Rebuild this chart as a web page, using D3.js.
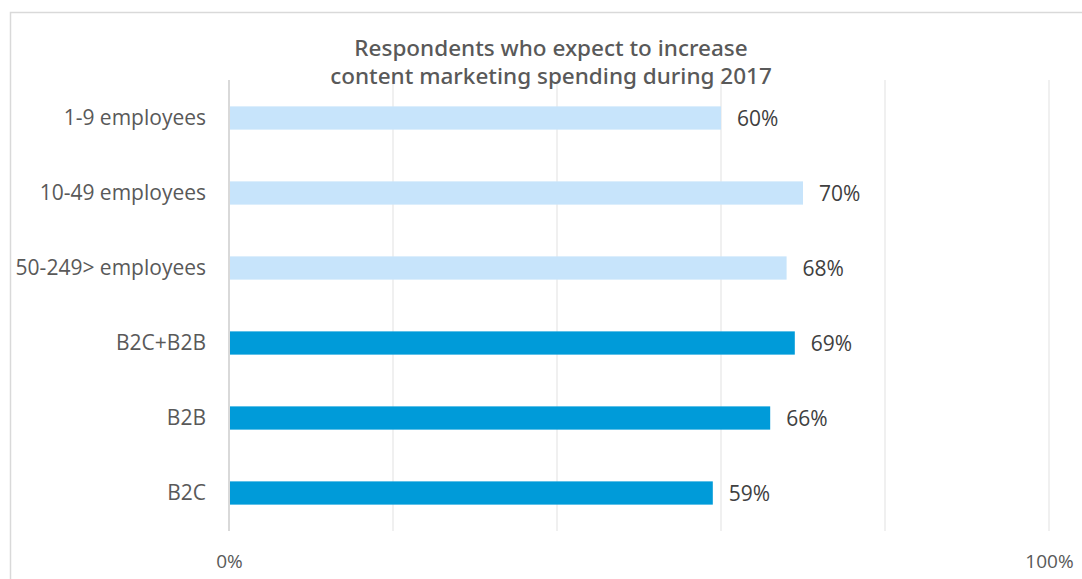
<!DOCTYPE html>
<html><head><meta charset="utf-8">
<script src="https://cdn.jsdelivr.net/npm/d3@7"></script>
<style>html,body{margin:0;padding:0;background:#fff;}svg{display:block;}</style>
</head><body>
<svg id="c" width="1082" height="579"></svg>
<script>
const categories = ["1-9 employees","10-49 employees","50-249> employees","B2C+B2B","B2B","B2C"];
const values = [60,70,68,69,66,59];
const groups = ["size","size","size","type","type","type"];
const tickValues = [0,20,40,60,80,100];
const tickLabels = ["0%","","","","","100%"];
const titleLines = ["Respondents who expect to increase","content marketing spending during 2017"];

const svg = d3.select("#c");
svg.append("rect").attr("x",10.5).attr("y",12.5).attr("width",1100).attr("height",600)
  .attr("fill","#fff").attr("stroke","#d9d9d9").attr("stroke-width",1.5);

const x = d3.scaleLinear().domain([0,100]).range([229,1049]);
const y = d3.scaleBand().domain(categories).range([80.5,530.5]).paddingInner(0.69).paddingOuter(0.345);
const color = {size:"#c7e4fb", type:"#009bd9"};

// gridlines
svg.append("g").selectAll("line").data(tickValues).join("line")
  .attr("x1",d=>x(d)).attr("x2",d=>x(d)).attr("y1",80).attr("y2",531)
  .attr("stroke",d=>d===0?"#d9d9d9":"#ebebeb").attr("stroke-width",d=>d===0?2:1.5);

// x axis labels
const xa = d3.axisBottom(x).tickValues(tickValues).tickFormat((d,i)=>tickLabels[i]).tickSize(0).tickPadding(0);
const gx = svg.append("g").attr("transform","translate(0,554)").call(xa);
gx.select(".domain").remove();
gx.selectAll("text").attr("font-family","'Liberation Sans Narrow','Open Sans',sans-serif")
  .attr("font-size",19).attr("fill","#595959").attr("dy","0.71em");

// y axis labels
const ya = d3.axisLeft(y).tickSize(0).tickPadding(23);
const gy = svg.append("g").attr("transform","translate(229,0)").call(ya);
gy.select(".domain").remove();
gy.selectAll("text").attr("font-family","'Open Sans',sans-serif").attr("font-size",21).attr("fill","#595959");

// bars
svg.append("g").selectAll("rect").data(categories).join("rect")
  .attr("x",x(0)+1).attr("y",d=>y(d)).attr("height",y.bandwidth())
  .attr("width",(d,i)=>x(values[i])-x(0)-1).attr("fill",(d,i)=>color[groups[i]]);

// value labels
svg.append("g").selectAll("text").data(categories).join("text")
  .attr("x",(d,i)=>x(values[i])+16).attr("y",d=>y(d)+y.bandwidth()/2+1).attr("dy","0.35em")
  .attr("font-family","'Open Sans',sans-serif").attr("font-size",21).attr("fill","#404040")
  .text((d,i)=>values[i]+"%");

// title (two separate lines)
svg.append("g").selectAll("text").data(titleLines).join("text")
  .attr("x",551).attr("y",(d,i)=>55.5+i*28).attr("text-anchor","middle")
  .attr("font-family","'Noto Sans',sans-serif").attr("font-weight",500).attr("font-size",22.5).attr("fill","#595959")
  .text(d=>d);
</script>
</body></html>
